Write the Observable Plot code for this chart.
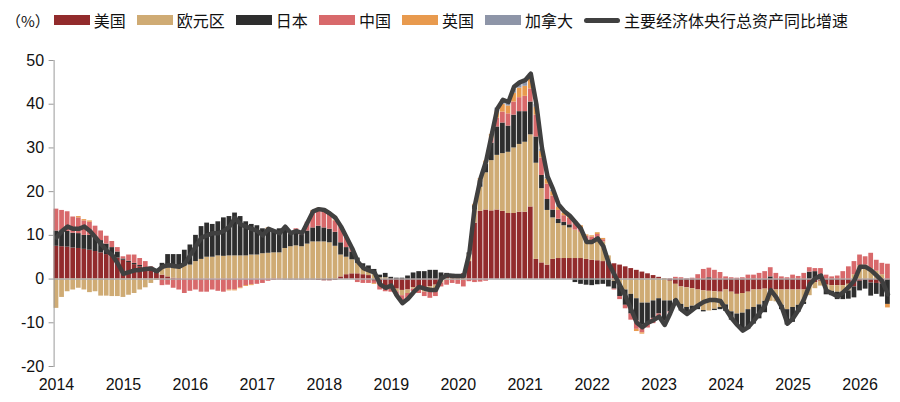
<!DOCTYPE html>
<html><head><meta charset="utf-8">
<script src="https://cdn.jsdelivr.net/npm/d3@7"></script>
<script src="https://cdn.jsdelivr.net/npm/@observablehq/plot@0.6"></script>
<style>
body{margin:0;background:#fff;font-family:"Liberation Sans","Noto Sans CJK SC",sans-serif;color:#111;}
#legend{height:40px;display:flex;align-items:center;font-size:16px;padding-left:6px;box-sizing:border-box;white-space:nowrap;font-family:"Noto Sans CJK SC","Liberation Sans",sans-serif;}
#legend .unit{margin-right:4px;font-size:15px;}
#legend .item{display:flex;align-items:center;margin-right:11px;}
#legend .sw{width:36px;height:10px;margin-right:4px;}
#legend .ln{width:36px;height:5px;border-radius:3px;margin-right:4px;}
</style></head><body>
<div id="legend"></div>
<div id="chart"></div>
<script>
const seriesNames = ["美国","欧元区","日本","中国","英国","加拿大"];
const lineName = "主要经济体央行总资产同比增速";
const yearLabels = ["2014","2015","2016","2017","2018","2019","2020","2021","2022","2023","2024","2025","2026"];
const yTicks = [-20,-10,0,10,20,30,40,50];

const us = [
[7.5,7.4,7.3,7.1,7.0,6.8,6.6,6.3,6.0,5.6,5.2,4.8],
[4.3,3.8,3.3,2.8,2.3,1.8,1.3,0.9,0.5,0.2,0.1,0],
[0,0,0,0,0,0,0,0,0,0,0,0],
[0,0,0,0,0,-0.2,-0.2,-0.2,-0.2,-0.2,-0.2,-0.3],
[-0.4,-0.4,-0.3,0.5,1.0,1.2,1.2,1.0,0.8,-0.5,-1.4,-1.6],
[-1.8,-2.3,-2.6,-2.5,-2.0,-2.0,-2.0,-1.8,-1.4,-0.3,0.4,0.6],
[0.8,1.2,4.0,12.8,15.5,15.8,15.6,15.8,15.5,15.0,15.0,15.3],
[15.3,16.5,4.5,3.7,3.2,4.5,4.7,4.7,4.7,4.7,4.7,4.5],
[4.3,4.2,4.0,3.8,3.5,3.2,2.8,2.4,2.0,1.6,1.2,0.8],
[0.4,0.1,-0.5,-1.2,-1.8,-2.0,-2.2,-2.5,-2.7,-2.8,-2.9,-3.0],
[-2.5,-3.0,-3.5,-3.3,-3.0,-2.5,-2.5,-2.3,-2.6,-2.5,-2.5,-2.5],
[-2.5,-2.5,-2.5,-1.8,-0.8,-0.5,-1.4,-1.5,-1.5,-1.5,-1.2,-1.8],
[-0.5,-0.3,-0.9,-1.0,-1.1,-0.3]
].flat();

const eu = [
[-6.7,-4.2,-2.9,-2.5,-2.1,-2.5,-3.1,-2.9,-3.9,-3.9,-4.0,-4.0],
[-4.2,-3.7,-3.3,-2.5,-2.0,-1.0,-0.3,1.5,2.0,2.2,2.5,3.0],
[3.2,4.0,4.5,5.0,5.0,5.3,5.2,5.3,5.3,5.3,5.3,5.5],
[5.5,5.8,5.9,6.0,6.0,7.0,7.4,7.6,7.4,8.0,8.5,8.5],
[8.5,8.3,7.5,5.0,4.0,3.2,2.4,1.6,1.4,1.0,0.3,0.3],
[-0.4,-0.6,-1.2,-0.8,-0.3,-0.5,-1.0,-1.2,-1.2,-0.6,-0.3,-0.2],
[-0.2,-0.3,1.5,3.0,5.5,8.5,11.5,12.5,13.2,14.0,15.0,15.5],
[16.0,16.5,22.0,17.0,12.5,9.5,8.0,7.5,7.0,6.5,6.0,4.5],
[4.5,5.0,4.5,1.5,-0.5,-1.5,-2.5,-3.5,-4.5,-5.5,-5.5,-5.0],
[-4.5,-5.0,-4.5,-3.5,-4.0,-4.5,-4.0,-4.0,-4.5,-4.5,-4.0,-3.5],
[-3.4,-4.5,-4.5,-4.5,-4.0,-4.0,-3.4,-2.8,-2.5,-2.7,-3.5,-4.5],
[-4.0,-3.5,-2.8,-2.0,-1.4,-1.1,-1.1,-1.3,-1.5,-1.5,-1.5,1.0],
[3.0,3.2,2.4,1.8,1.0,0]
].flat();

const jp = [
[3.5,3.6,3.6,3.4,3.4,3.2,3.4,3.2,2.8,2.4,2.0,1.4],
[0.3,0.3,0.3,0.3,0.3,0.3,0.3,1.2,3.1,3.2,3.0,3.6],
[4.6,6.0,7.5,7.8,7.5,7.8,8.8,9.0,9.8,9.0,7.8,7.0],
[6.7,5.7,5.5,5.0,5.5,4.2,2.9,3.1,2.6,3.0,3.2,3.6],
[3.2,3.1,3.2,2.8,2.2,1.8,1.2,0.9,0.8,1.2,0.6,1.0],
[0.4,0.2,0.2,0.7,1.4,1.7,1.7,2.0,2.0,1.4,0.9,0.5],
[0.1,0,0.5,1.0,1.5,2.0,4.0,6.5,7.0,6.0,7.5,7.5],
[7.0,7.5,6.0,3.0,2.5,1.8,1.0,0.8,0.7,-0.8,-1.2,-1.4],
[-1.5,-1.3,-1.2,-1.8,-1.8,-2.5,-3.5,-4.5,-5.0,-5.0,-4.5,-4.0],
[-3.5,-4.5,-2.5,-0.5,-1.5,-1.5,-1.0,-0.5,-0.3,0.3,-0.3,-0.5],
[-1.5,-1.9,-2.5,-4.2,-4.5,-3.8,-3.2,-2.6,0.5,0,-1.0,-3.5],
[-3.4,-1.6,-0.5,1.6,1.7,1.0,-1.1,-1.0,-1.7,-1.7,-1.9,-2.5],
[-2.2,-2.0,-3.0,-2.5,-3.0,-5.5]
].flat();

const cn = [
[5.0,4.7,4.5,3.7,3.6,3.3,3.0,2.6,2.2,1.8,1.4,1.0],
[0.5,1.4,1.9,1.6,1.4,0.7,0.1,-1.5,-1.4,-2.1,-2.5,-3.3],
[-2.8,-2.5,-3.0,-3.0,-2.5,-2.8,-3.0,-2.5,-2.5,-2.0,-1.5,-1.3],
[-1.2,-1.0,-0.5,-0.3,-0.2,0.3,0.5,0.8,0.6,2.0,3.8,3.8],
[4.0,3.6,2.6,3.5,2.3,0.8,-0.8,-1.0,-1.0,-0.5,-1.1,-1.3],
[-0.8,-1.0,-1.3,-1.2,-0.6,-0.8,-1.0,-1.4,-1.4,-0.9,-1.1,-0.8],
[-1.0,-1.5,-0.6,-0.8,-0.7,-0.5,1.0,2.0,2.5,2.8,3.0,3.2],
[3.5,3.0,5.0,4.0,3.5,3.2,2.0,1.5,1.5,1.5,1.0,0.8],
[0.8,1.0,0.5,0,-0.2,-0.7,-0.8,-1.4,-2.0,-1.8,-1.2,-1.2],
[-1.0,-1.1,-0.3,0.4,0.3,0,0.2,1.0,2.2,2.2,2.0,1.5],
[0.5,0.3,0.2,0.3,0.9,0.9,1.3,1.7,2.1,1.3,0.5,0.3],
[0.9,0.6,1.3,1.0,0.7,1.4,0.9,0.5,0.7,1.7,2.8,3.0],
[2.5,1.9,3.5,2.5,2.6,3.4]
].flat();

const uk = [
[0,0,0,0,0.3,0.3,0.3,0,0,0,0,0],
[0,0,0,0,0,0,0,0,0,0,0,0],
[0,0,0,0,0,0,0,-0.2,-0.2,-0.2,-0.2,-0.2],
[0,0,0.3,0,0,0,0,0,0,0,0.2,0.3],
[0.3,0.2,0.2,0.2,0,0,0,0,0,-0.2,0,0],
[0,0,0,0,0,0,0,0,0,0,0,0],
[0,0,0,0.3,0.5,0.7,1.0,1.5,1.8,1.8,2.0,2.2],
[2.3,2.3,1.8,1.5,1.2,1.0,0.8,0.6,0.5,0.5,0.5,0.3],
[0.3,0.4,0.3,0,0,0,0,0,-0.5,-0.3,0,0],
[0,0,0,0,0,0,0,0,0,0,0,0],
[0,0,0,0,0,0,0,0,0,0,0,0],
[0,0,0,0,0,0,0,0,0,0,0,0],
[0,0,0,0,0,-0.8]
].flat();

const ca = [
[0,0,0,0,0,0,0,0,0,0,0,0],
[0,0,0,0,0,0,0,0,0,0,0,0],
[0,0,0,0,0,0,0,0,0,0,0,0],
[0,0,0,0,0,0,0,0,0,0,0,0],
[0,0,0,0,0,0,0,0,0,0,0,0],
[0,0,0,0,0,0,0,0,0,0,0,0],
[0,0,0,0,0,0,0,0.8,1.0,0.9,1.0,1.0],
[1.2,1.2,0.7,0.5,0.4,0.3,0.2,0,0,0,0,0],
[0,0,0,0,0,0,0,0,0,0,0,0],
[0,0,0,0,0,0,0,0,0,0,0,0],
[0,0,0,0,0,0,0,0,0,0,0,0],
[0,0,0,0,0,0,0,0,0,0,0,0],
[0,0,0,0,0,0]
].flat();

const total = [
[9.5,11,12,11.5,11.5,12,11,9.5,8,6.5,5.5,3.5],
[1.2,1.6,2,2.1,2.3,2.4,1.8,2.8,3.2,3,2.8,3.5],
[5.5,7.5,9.5,10,10.5,10.5,11,12,14,12.5,12,11.5],
[11,10,11.5,11,10.5,12,10.5,11,10.5,13,15.5,16],
[15.8,15,14,12,9.5,7,4,2.5,2,1.5,-1.2,-2],
[-1.5,-3.8,-5.5,-4.5,-3,-1.8,-2.2,-2.5,-2.5,0.2,0.9,0.7],
[0.7,0.7,6,17,23,27,33,39,41,40.5,44,45],
[45.5,47,40,30,23.5,20.5,17,15.5,14.5,13,11.5,8.5],
[8.5,9.3,7.5,3.5,1,-1.5,-4,-7,-10,-11,-10,-9.4],
[-8.6,-10.5,-7.8,-4.8,-7,-8,-7,-6,-5.2,-4.8,-4.8,-5],
[-7,-9,-10.5,-11.8,-11,-9.5,-7.8,-6,-2.5,-4.2,-6.5,-10.2],
[-9,-7,-4.5,-1.2,0.2,0.8,-2.7,-3.3,-4,-3,-1.8,-0.3],
[2.8,2.8,2,0.8,-0.5,-3.5]
].flat();

const colors = ["#922b2c","#cfab74","#2e2e2e","#d8696b","#e89a4e","#8e95a8"];
const lineColor = "#404040";

const seriesValues = [us, eu, jp, cn, uk, ca];
const months = d3.range(total.length);
const data = [];
seriesNames.forEach((name, s) => seriesValues[s].forEach((v, i) => data.push({i, series: name, value: v})));
const lineData = total.map((v, i) => ({i, value: v}));

// legend
const lg = document.getElementById("legend");
lg.innerHTML = `<span class="unit">（%）</span>` +
  seriesNames.map((n, k) => `<span class="item"><span class="sw" style="background:${colors[k]}"></span>${n}</span>`).join("") +
  `<span class="item"><span class="ln" style="background:${lineColor}"></span>${lineName}</span>`;

const chart = Plot.plot({
  width: 900, height: 362,
  marginTop: 20, marginBottom: 36, marginLeft: 53.6, marginRight: 10.2,
  style: {fontFamily: '"Liberation Sans", Arial, sans-serif', fontSize: "16px", color: "#111", background: "#fff"},
  x: {type: "band", domain: months, paddingInner: 0.15, paddingOuter: 0, align: 0, axis: null, label: null},
  y: {domain: [-20, 50], axis: null, label: null},
  color: {domain: seriesNames, range: colors},
  marks: [
    Plot.barY(data, {x: "i", y: "value", fill: "series", z: "series", order: seriesNames}),
    Plot.ruleY([0], {stroke: "#aaa", strokeWidth: 1.2}),
    Plot.lineY(lineData, {x: "i", y: "value", stroke: lineColor, strokeWidth: 4.5, strokeLinejoin: "round", strokeLinecap: "round"}),
    Plot.frame({anchor: "left", stroke: "#999"}),
    Plot.axisY({ticks: yTicks, tickSize: 5, tickPadding: 5, stroke: "#999", label: null, tickFormat: d => String(d)}),
    Plot.axisX({ticks: yearLabels.map((_, k) => k * 12), tickFormat: i => yearLabels[i / 12], tickSize: 0, tickPadding: 12, label: null})
  ]
});
document.getElementById("chart").appendChild(chart);
</script>
</body></html>
